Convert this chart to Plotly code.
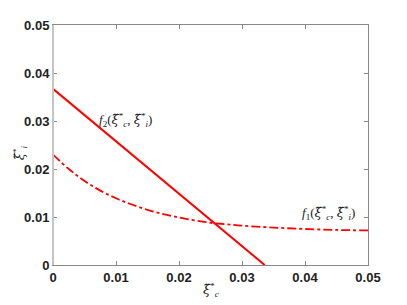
import plotly.graph_objects as go

# f2: straight line
f2_x = [0.0, 0.0336]
f2_y = [0.0367, 0.0]

# f1: decreasing curve
f1_x = [0, 0.0025, 0.005, 0.0075, 0.01, 0.0125, 0.015, 0.0175, 0.02, 0.0225, 0.025, 0.0275,
        0.03, 0.035, 0.04, 0.045, 0.05]
f1_y = [0.0230, 0.0200, 0.0175, 0.0155, 0.0139, 0.0126, 0.0115, 0.0106, 0.0099, 0.0093,
        0.0088, 0.0085, 0.0082, 0.0078, 0.0075, 0.0073, 0.0072]

tick_vals = [0, 0.01, 0.02, 0.03, 0.04, 0.05]
tick_text = ["0", "0.01", "0.02", "0.03", "0.04", "0.05"]

XI = '<span style="font-family:DejaVu Serif;font-style:italic">ξ̈</span>'
xi_c = XI + "<sup>*</sup><sub><i>c</i></sub>"
xi_i = XI + "<sup>*</sup><sub><i>i</i></sub>"

fig = go.Figure()
fig.add_trace(go.Scatter(x=f2_x, y=f2_y, mode="lines",
                         line=dict(color="#ff0000", width=2), showlegend=False))
fig.add_trace(go.Scatter(x=f1_x, y=f1_y, mode="lines", line_shape="spline",
                         line=dict(color="#ff0000", width=1.8, dash="dashdot"), showlegend=False))

axis_common = dict(
    showgrid=False, zeroline=False, ticks="inside", ticklen=4, tickcolor="#888888",
    showline=True, linecolor="#888888", linewidth=1, mirror="ticks", automargin=False,
    tickvals=tick_vals, ticktext=tick_text,
    tickfont=dict(family="Liberation Sans, Arial, sans-serif", size=13, color="#222222", weight="bold"),
)

# page body has an 8px margin, so the figure is sized/offset to compensate
fig.update_layout(
    width=399, height=297,
    margin=dict(l=45, r=39, t=17, b=40),
    paper_bgcolor="white", plot_bgcolor="white",
    xaxis=dict(range=[0, 0.05], **axis_common),
    yaxis=dict(range=[0, 0.05], **axis_common),
    font=dict(family="Liberation Serif, DejaVu Serif, serif", color="#222222"),
)

fig.add_shape(type="line", xref="paper", yref="paper", x0=0, x1=0, y0=0, y1=1,
              line=dict(color="#c4c4c4", width=2))

fig.add_annotation(x=0.007, y=0.0302, xref="x", yref="y", xanchor="left", yanchor="middle",
                   text="<i>f</i><sub>2</sub>(" + xi_c + ", " + xi_i + ")", showarrow=False,
                   font=dict(size=13, family="Liberation Serif, serif", color="#222222"))
fig.add_annotation(x=0.0482, y=0.0108, xref="x", yref="y", xanchor="right", yanchor="middle",
                   text="<i>f</i><sub>1</sub>(" + xi_c + ", " + xi_i + ")", showarrow=False,
                   font=dict(size=13, family="Liberation Serif, serif", color="#222222"))

fig.add_annotation(x=0.5, y=-0.06, xref="paper", yref="paper", xanchor="center", yanchor="top",
                   text=xi_c, showarrow=False,
                   font=dict(size=13, family="Liberation Serif, serif", color="#222222"))
fig.add_annotation(x=-0.105, y=0.47, xref="paper", yref="paper", xanchor="center", yanchor="middle",
                   text=xi_i, showarrow=False, textangle=-90,
                   font=dict(size=13, family="Liberation Serif, serif", color="#222222"))

fig.write_html("out.html")
